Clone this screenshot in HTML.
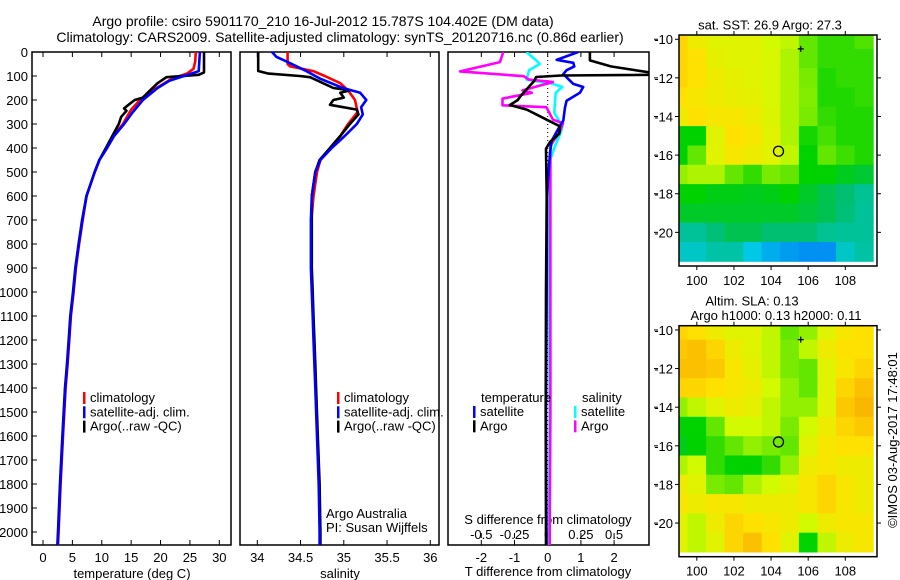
<!DOCTYPE html>
<html><head><meta charset="utf-8">
<style>
html,body{margin:0;padding:0;background:#fff;}
svg{display:block;font-family:"Liberation Sans",sans-serif;}
text{fill:#000;}
</style></head>
<body>
<svg id="chart" width="900" height="580" viewBox="0 0 900 580">
 <text x="323" y="26" font-size="14" text-anchor="middle">Argo profile: csiro 5901170_210 16-Jul-2012 15.787S 104.402E (DM data)</text>
 <text x="340" y="42" font-size="14" text-anchor="middle">Climatology: CARS2009. Satellite-adjusted climatology: synTS_20120716.nc (0.86d earlier)</text>
 <g id="g1"></g>
 <g id="g2"></g>
 <g id="g3"></g>
 <g id="m1"></g>
 <g id="m2"></g>
 <text transform="translate(897,440) rotate(-90)" font-size="13" text-anchor="middle">©IMOS 03-Aug-2017 17:48:01</text>
</svg>
<script>
// ---------- DATA ----------
const depthTicks = [0,100,200,300,400,500,600,700,800,900,1000,1100,1200,1300,1400,1500,1600,1700,1800,1900,2000];
const tempTicks = [0,5,10,15,20,25,30];
const salTicks = [34,34.5,35,35.5,36];
const salTickLabels = ['34','34.5','35','35.5','36'];
const tdiffTicks = [-2,-1,0,1,2];
const sdiffTicks = [-0.5,-0.25,0,0.25,0.5];
const sdiffTickLabels = ['-0.5','-0.25','0','0.25','0.5'];

const deepDepth = [700,800,900,1000,1100,1200,1300,1400,1600,1800,2000,2054];
const tempDeep = [6.7,6.1,5.55,5.15,4.7,4.42,4.14,3.8,3.35,2.95,2.6,2.5];
const salDeep = [34.62,34.62,34.62,34.63,34.64,34.65,34.66,34.67,34.69,34.71,34.72,34.72];

const tClimDepth = [0,40,70,90,110,140,170,200,240,300,350,400,450,500,600];
const tClimVal = [26.0,25.9,25.6,24.5,22,20,18,16.5,15,13.6,12,10.8,9.6,8.8,7.4];
const tSatDepth = [0,40,80,100,120,150,200,250,300,350,400,450,500,600];
const tSatVal = [26.7,26.6,26.5,24,21.5,19.5,17,15.3,13.8,12.1,10.9,9.6,8.8,7.4];
const tArgoDepth = [0,85,95,105,130,160,190,200,215,235,245,270,300,350,400,450,500,600];
const tArgoVal = [27.4,27.4,26.5,21,19.5,18.2,17,15.6,14.8,13.8,14.2,13.3,12.9,11.8,10.7,9.6,8.8,7.4];

const sClimDepth = [0,50,60,80,100,130,160,200,250,300,350,400,450,500,600];
const sClimVal = [34.35,34.35,34.38,34.65,34.78,34.96,35.05,35.13,35.16,35.05,34.96,34.84,34.73,34.69,34.65];
const sSatDepth = [0,20,40,80,110,150,170,200,230,260,300,350,400,450,500,600];
const sSatVal = [34.17,34.22,34.34,34.57,34.72,34.99,35.19,35.26,35.2,35.22,35.15,35.01,34.86,34.73,34.67,34.63];
const sArgoDepth = [0,79,90,100,105,150,160,170,190,200,220,240,260,300,350,400,450,500,600];
const sArgoVal = [34.01,34.01,34.13,34.49,34.61,34.88,35.07,34.96,35.0,34.88,34.84,35.15,35.17,35.07,34.96,34.84,34.72,34.67,34.63];

const dTArgoDepth = [0,35,60,75,88,95,98,104,120,150,186,200,221,240,282,310,340,375,403,600,1000,1500,2000,2054];
const dTArgoVal = [1.27,1.27,1.9,2.6,3.2,3.2,0.4,-0.35,-0.4,-0.6,-0.83,-0.9,-1.14,-0.63,-0.03,0.37,0.35,0.07,-0.05,-0.03,-0.05,-0.06,-0.05,-0.05];
const dTSatDepth = [0,33,45,60,76,92,133,146,170,203,231,286,320,370,420,600,1000,1500,2000,2054];
const dTSatVal = [0.92,0.27,0.77,0.8,0.57,0.47,0.77,1.07,0.97,0.57,0.52,0.47,0.32,0.12,0.07,-0.02,-0.03,-0.05,-0.04,-0.04];
const dSArgoDepth = [0,42,81,101,115,125,160,170,194,222,230,282,297,333,390,600,1000,1500,2000,2054];
const dSArgoVal = [-0.334,-0.36,-0.66,-0.18,-0.14,0.04,-0.19,-0.12,-0.34,-0.34,-0.01,0.04,0.115,0.09,0.02,0.02,0.02,0.02,0.015,0.015];
const dSSatDepth = [0,33,50,76,115,133,146,170,253,310,333,400,465,600,1000,1500,2000,2054];
const dSSatVal = [-0.16,-0.09,-0.06,-0.14,-0.16,0.04,0.11,0.06,0.05,0.11,0.1,0.05,0.01,0.01,0.01,0.015,0.01,0.01];

const mapLons = [99,100,101,102,103,104,105,106,107,108,109];
const mapLats = [-10,-11,-12,-13,-14,-15,-16,-17,-18,-19,-20,-21];
const lonTicks = [100,102,104,106,108];
const latTicks = [-10,-12,-14,-16,-18,-20];
const sstGrid = [
[0.85,0.78,0.75,0.75,0.75,0.72,0.7,0.6,0.55,0.55,0.58],
[0.85,0.82,0.76,0.75,0.75,0.73,0.68,0.6,0.55,0.55,0.55],
[0.85,0.82,0.78,0.76,0.75,0.73,0.68,0.62,0.53,0.55,0.55],
[0.82,0.8,0.78,0.77,0.76,0.73,0.68,0.63,0.53,0.53,0.55],
[0.78,0.82,0.8,0.8,0.78,0.74,0.68,0.62,0.55,0.53,0.53],
[0.5,0.5,0.75,0.82,0.8,0.75,0.68,0.52,0.57,0.53,0.53],
[0.5,0.6,0.75,0.8,0.78,0.75,0.7,0.5,0.6,0.56,0.53],
[0.65,0.68,0.68,0.6,0.55,0.62,0.6,0.5,0.5,0.47,0.45],
[0.5,0.5,0.48,0.48,0.47,0.48,0.5,0.46,0.42,0.38,0.33],
[0.46,0.46,0.46,0.46,0.46,0.46,0.46,0.44,0.42,0.37,0.32],
[0.32,0.32,0.37,0.42,0.42,0.38,0.38,0.38,0.33,0.32,0.32],
[0.25,0.25,0.3,0.3,0.2,0.15,0.12,0.1,0.1,0.25,0.3]];
const slaGrid = [
[0.85,0.82,0.78,0.75,0.75,0.7,0.6,0.65,0.75,0.8,0.82],
[0.88,0.9,0.85,0.78,0.75,0.7,0.62,0.7,0.78,0.82,0.82],
[0.9,0.9,0.88,0.8,0.76,0.7,0.62,0.6,0.75,0.8,0.85],
[0.85,0.85,0.82,0.8,0.78,0.72,0.65,0.6,0.75,0.85,0.9],
[0.65,0.7,0.75,0.78,0.76,0.7,0.65,0.65,0.75,0.88,0.92],
[0.5,0.5,0.6,0.72,0.72,0.7,0.62,0.72,0.78,0.85,0.88],
[0.48,0.5,0.55,0.6,0.65,0.62,0.6,0.75,0.8,0.82,0.82],
[0.68,0.72,0.55,0.5,0.5,0.55,0.65,0.78,0.8,0.78,0.78],
[0.78,0.75,0.62,0.6,0.68,0.72,0.75,0.8,0.85,0.8,0.78],
[0.8,0.78,0.8,0.8,0.78,0.78,0.78,0.8,0.85,0.8,0.78],
[0.75,0.7,0.78,0.85,0.82,0.8,0.78,0.72,0.78,0.8,0.8],
[0.75,0.7,0.75,0.85,0.9,0.82,0.75,0.5,0.7,0.78,0.8]];
const argoPos = [104.4,-15.8];
const markerPos = [105.6,-10.5];

// ---------- HELPERS ----------
const NS='http://www.w3.org/2000/svg';
function mk(tag,attrs,parent){const e=document.createElementNS(NS,tag);for(const k in attrs)e.setAttribute(k,attrs[k]);parent.appendChild(e);return e;}
const TOP=52,BOT=545;
const yD=d=>TOP+d*0.24;
const xT=v=>43+v*5.877;
const xS=v=>257.3+(v-34)*86.5;
const xDT=v=>547.7+v*33.2;
const xDS=v=>547.7+v*132.8;

function frame(g,x0,x1,name){
  const r=mk('rect',{x:x0,y:TOP,width:x1-x0,height:BOT-TOP,fill:'none',stroke:'#000','stroke-width':1.5},g);
  
  
}
function line(g,depths,vals,xf,color,name,extra){
  let d='';
  for(let i=0;i<depths.length;i++){d+=(i?'L':'M')+xf(vals[i]).toFixed(1)+','+yD(depths[i]).toFixed(1);}
  const p=mk('path',Object.assign({d:d,fill:'none',stroke:color,'stroke-width':2.6,'stroke-linejoin':'round'},extra||{}),g);
  
  
}
function txt(g,x,y,s,size,anchor,name){
  const t=mk('text',{x:x,y:y,'font-size':size,'text-anchor':anchor||'start'},g);
  t.textContent=s;
  
  
  return t;
}
function xticks(g,ticks,labels,xf,x0,x1,ylab,name){
  ticks.forEach((v,i)=>{
    const x=xf(v);
    mk('line',{x1:x,x2:x,y1:BOT,y2:BOT-5,stroke:'#000','stroke-width':1},g);
    mk('line',{x1:x,x2:x,y1:TOP,y2:TOP+5,stroke:'#000','stroke-width':1},g);
    txt(g,x,ylab,labels[i],13,'middle',name);
  });
}
function legend(g,x,y0,colors,labels,name){
  labels.forEach((s,i)=>{
    const y=y0+i*14.3;
    const b=mk('rect',{x:x,y:y-10,width:2.5,height:12,fill:colors[i]},g);
    
    
    txt(g,x+7,y,s,13,'start',name+'-entry');
  });
}

// ---------- PANEL 1 ----------
const g1=document.getElementById('g1');
frame(g1,32,231,'temperature-plot-frame');
depthTicks.forEach(d=>{
  mk('line',{x1:32,x2:37,y1:yD(d),y2:yD(d),stroke:'#000','stroke-width':1},g1);
  txt(g1,28,yD(d)+5,String(d),13,'end','depth-tick-label');
});
xticks(g1,tempTicks,tempTicks.map(String),xT,32,231,562,'temperature-tick-label');
txt(g1,132,578,'temperature (deg C)',13,'middle','temperature-axis-title');
line(g1,tClimDepth.concat(deepDepth),tClimVal.concat(tempDeep.map(v=>v+0.05)),xT,'#f00','temperature-climatology-line');
line(g1,tArgoDepth.concat(deepDepth),tArgoVal.concat(tempDeep.map(v=>v-0.05)),xT,'#000','temperature-argo-line');
line(g1,tSatDepth.concat(deepDepth),tSatVal.concat(tempDeep),xT,'#00f','temperature-satellite-line');
legend(g1,83,402,['#f00','#00f','#000'],['climatology','satellite-adj. clim.','Argo(..raw -QC)'],'temperature-legend');

// ---------- PANEL 2 ----------
const g2=document.getElementById('g2');
frame(g2,240,439,'salinity-plot-frame');
xticks(g2,salTicks,salTickLabels,xS,240,439,562,'salinity-tick-label');
txt(g2,340,578,'salinity',13,'middle','salinity-axis-title');
line(g2,sClimDepth.concat(deepDepth),sClimVal.concat(salDeep.map(v=>v+0.005)),xS,'#f00','salinity-climatology-line');
line(g2,sArgoDepth.concat(deepDepth),sArgoVal.concat(salDeep.map(v=>v+0.01)),xS,'#000','salinity-argo-line');
line(g2,sSatDepth.concat(deepDepth),sSatVal.concat(salDeep),xS,'#00f','salinity-satellite-line');
legend(g2,337,402,['#f00','#00f','#000'],['climatology','satellite-adj. clim.','Argo(..raw -QC)'],'salinity-legend');
txt(g2,326,518,'Argo Australia',13,'start','argo-australia-label');
txt(g2,326,532,'PI: Susan Wijffels',13,'start','pi-label');

// ---------- PANEL 3 ----------
const g3=document.getElementById('g3');
const cp=mk('clipPath',{id:'cp3'},g3);
mk('rect',{x:448,y:TOP,width:201,height:BOT-TOP},cp);
frame(g3,448,649,'difference-plot-frame');
mk('line',{x1:xDT(0),x2:xDT(0),y1:TOP,y2:BOT,stroke:'#000','stroke-width':1,'stroke-dasharray':'1,3'},g3);
tdiffTicks.forEach(v=>{
  mk('line',{x1:xDT(v),x2:xDT(v),y1:BOT,y2:BOT-5,stroke:'#000'},g3);
  mk('line',{x1:xDT(v),x2:xDT(v),y1:TOP,y2:TOP+5,stroke:'#000'},g3);
  txt(g3,xDT(v),562,String(v),13,'middle','t-difference-tick-label');
});
sdiffTicks.forEach((v,i)=>{
  mk('line',{x1:xDS(v),x2:xDS(v),y1:BOT-12,y2:BOT-7,stroke:'#000'},g3);
  txt(g3,xDS(v),539,sdiffTickLabels[i],13,'middle','s-difference-tick-label');
});
txt(g3,548,524,'S difference from climatology',13,'middle','s-difference-axis-title');
txt(g3,548,576,'T difference from climatology',13,'middle','t-difference-axis-title');
line(g3,dSSatDepth,dSSatVal,xDS,'#0ff','salinity-satellite-diff-line',{'clip-path':'url(#cp3)'});
line(g3,dSArgoDepth,dSArgoVal,xDS,'#f0f','salinity-argo-diff-line',{'clip-path':'url(#cp3)'});
line(g3,dTSatDepth,dTSatVal,xDT,'#00f','temperature-satellite-diff-line',{'clip-path':'url(#cp3)'});
line(g3,dTArgoDepth,dTArgoVal,xDT,'#000','temperature-argo-diff-line',{'clip-path':'url(#cp3)'});
txt(g3,481,402,'temperature',13,'start','temperature-legend-heading');
txt(g3,582,402,'salinity',13,'start','salinity-legend-heading');
legend(g3,473,416,['#00f','#000'],['satellite','Argo'],'temperature-diff-legend');
legend(g3,574,416,['#0ff','#f0f'],['satellite','Argo'],'salinity-diff-legend');

// ---------- MAPS ----------
function cmap(v){
  const stops=[[0,[0,90,255]],[0.2,[0,200,230]],[0.4,[0,190,100]],[0.5,[0,210,0]],[0.62,[120,235,0]],[0.72,[210,250,0]],[0.82,[255,225,0]],[1,[245,150,0]]];
  for(let i=1;i<stops.length;i++){
    if(v<=stops[i][0]){const a=stops[i-1],b=stops[i];const t=(v-a[0])/(b[0]-a[0]);
      return 'rgb('+a[1].map((c,j)=>Math.round(c+(b[1][j]-c)*t)).join(',')+')';}
  }
  return 'rgb(245,150,0)';
}
function drawMap(id,top,grid,titles,titleX,name){
  const g=document.getElementById(id);
  const L=679,R=877,B=top+231;
  const xL=lon=>L+(lon-99.04)*18.56;
  const yL=lat=>top+(-9.78-lat)*19.31;
  const cp=mk('clipPath',{id:'cp'+id},g);
  mk('rect',{x:L,y:top,width:R-L,height:B-top},cp);
  const cg=mk('g',{'clip-path':'url(#cp'+id+')'},g);
  mapLats.forEach((lat,r)=>{
    mapLons.forEach((lon,c)=>{
      const x0=xL(lon-0.5),x1=xL(lon+0.5),y0=yL(lat+0.5),y1=yL(lat-0.5);
      const rc=mk('rect',{x:x0.toFixed(1),y:y0.toFixed(1),width:(x1-x0+0.5).toFixed(1),height:(y1-y0+0.5).toFixed(1),fill:cmap(grid[r][c])},cg);
      
      
    });
  });
  const f=mk('rect',{x:L,y:top,width:R-L,height:B-top,fill:'none',stroke:'#000','stroke-width':1.5},g);
  
  
  lonTicks.forEach(v=>{
    mk('line',{x1:xL(v),x2:xL(v),y1:top,y2:top-4,stroke:'#000'},g);
    mk('line',{x1:xL(v),x2:xL(v),y1:B,y2:B+4,stroke:'#000'},g);
    txt(g,xL(v),B+19,String(v),13,'middle',name+'-lon-label');
  });
  latTicks.forEach(v=>{
    mk('line',{x1:L,x2:L-4,y1:yL(v),y2:yL(v),stroke:'#000'},g);
    mk('line',{x1:R,x2:R+4,y1:yL(v),y2:yL(v),stroke:'#000'},g);
    mk('line',{x1:654,x2:658,y1:yL(v),y2:yL(v),stroke:'#000'},g);
    txt(g,673,yL(v)+5,String(v),13,'end',name+'-lat-label');
  });
  const c=mk('circle',{cx:xL(argoPos[0]),cy:yL(argoPos[1]),r:5,fill:'none',stroke:'#000','stroke-width':1.3},g);
  
  
  const mx=xL(markerPos[0]),my=yL(markerPos[1]);
  const m=mk('path',{d:'M'+(mx-3)+','+my+'H'+(mx+3)+'M'+mx+','+(my-3)+'V'+(my+3),stroke:'#000','stroke-width':1.2,fill:'none'},g);
  
  
  titles.forEach((s,i)=>txt(g,titleX[i],top-(titles.length-i)*14.5+9,s,13,'middle',name+'-title'));
}
drawMap('m1',35,sstGrid,['sat. SST: 26.9 Argo: 27.3'],[770],'sst-map');
drawMap('m2',325.7,slaGrid,['Altim. SLA: 0.13','Argo h1000: 0.13 h2000: 0.11'],[752,776],'sla-map');
</script>
</body></html>
